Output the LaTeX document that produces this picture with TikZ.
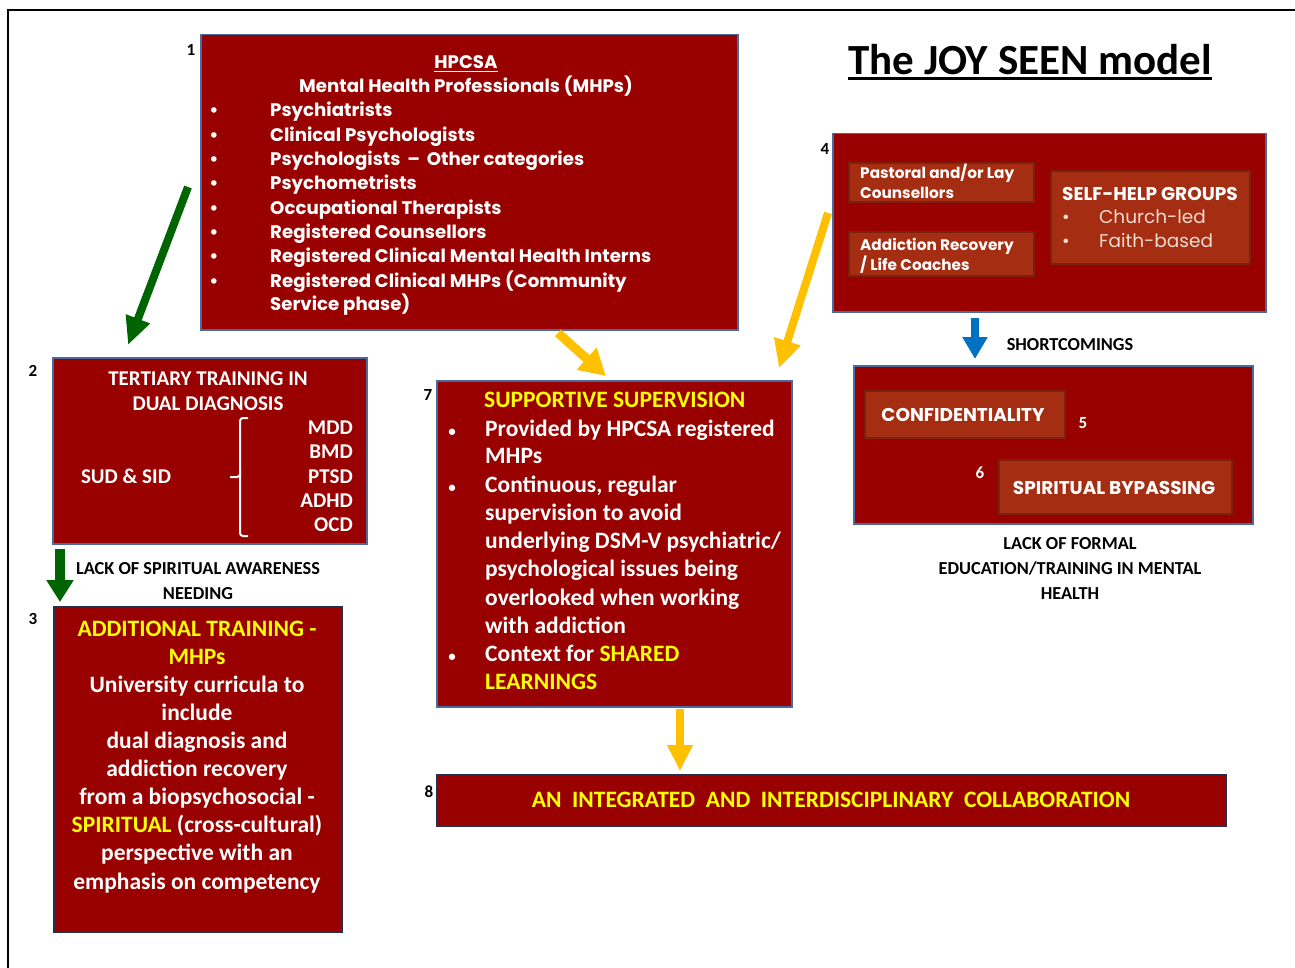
\documentclass[tikz,border=0pt]{standalone}
\usepackage{fontspec}
\setmainfont{Carlito}
\newfontfamily\gothic{Poppins}
\usetikzlibrary{arrows.meta}
\definecolor{boxred}{HTML}{990000}
\definecolor{rust}{HTML}{A42D12}
\definecolor{rustedge}{HTML}{7E2010}
\definecolor{edgeblue}{HTML}{4A6B9E}
\definecolor{edgenavy}{HTML}{24304F}
\definecolor{gold}{HTML}{FFC000}
\definecolor{yel}{HTML}{FFFF00}
\definecolor{darkgreen}{HTML}{006400}
\definecolor{arrowblue}{HTML}{0070C0}
\definecolor{pale}{HTML}{F2DCD0}
\begin{document}
\begin{tikzpicture}[x=1pt,y=-1pt,
  redbox/.style={draw=edgeblue, line width=1.5, fill=boxred, anchor=north west, inner sep=0},
  navybox/.style={redbox, draw=edgenavy},
  inbox/.style={draw=rustedge, line width=2, fill=rust, anchor=north west, inner sep=0},
  txtbase/.style={inner sep=0, yshift=-5pt},
  gtxt/.style={txtbase, font=\gothic\bfseries\fontsize{18.2}{21}\selectfont, text=white},
  gtxts/.style={txtbase, font=\gothic\bfseries\fontsize{15.3}{18}\selectfont, text=white},
  gtxtm/.style={txtbase, font=\gothic\bfseries\fontsize{18.5}{21}\selectfont, text=white},
  gtxtr/.style={txtbase, font=\gothic\fontsize{18.5}{21}\selectfont, text=pale},
  ctxt/.style={txtbase, font=\bfseries\fontsize{23.5}{27}\selectfont, text=white},
  ctxtm/.style={txtbase, font=\bfseries\fontsize{21}{25}\selectfont, text=white},
  dotxt/.style={txtbase, font=\bfseries\fontsize{15}{18}\selectfont, text=white},
  lbltxt/.style={txtbase, font=\bfseries\fontsize{18.3}{21}\selectfont, text=black},
  numtxt/.style={txtbase, font=\bfseries\fontsize{17}{20}\selectfont, text=black},
]
\useasboundingbox (0,0) rectangle (1295,968);
% frame
\coordinate (frameBL) at (8,968);
\coordinate (frameTL) at (8,10);
\coordinate (frameTR) at (1295,10);
\draw[line width=2.5] (frameBL) -- (frameTL) -- (frameTR);

% title
\node[font=\bfseries\fontsize{43}{50}\selectfont, inner sep=0, anchor=base] (title) at (1030,75) {The JOY SEEN model};
\draw[line width=3] ([yshift=-4pt]title.base west) -- ([yshift=-4pt]title.base east);

% ---------- Box 1
\node[redbox, minimum width=537, minimum height=295] (b1) at (200,34) {};
\node[numtxt, anchor=mid] (n1) at (191,48) {1};
\node[gtxt, anchor=mid] (hp) at (466,61) {HPCSA};
\draw[white, line width=1.5] ([yshift=-3pt]hp.base west) -- ([yshift=-3pt]hp.base east);
\node[gtxt, anchor=mid] (mhp) at (466,85) {Mental Health Professionals (MHPs)};
\foreach \t/\y in {Psychiatrists/109, Clinical Psychologists/134, Psychologists \,–\, Other categories/158, Psychometrists/182, Occupational Therapists/207, Registered Counsellors/231, Registered Clinical Mental Health Interns/255, Registered Clinical MHPs (Community/280}{
  \node[gtxt, anchor=mid west] (l1-\y) at (270,\y) {\t};
  \node[gtxt, anchor=mid] (d1-\y) at (214,\y) {•};
}
\node[gtxt, anchor=mid west] (l1-303) at (270,303) {Service phase)};

% ---------- Box 2
\node[redbox, minimum width=314, minimum height=186] (b2) at (52,357) {};
\node[numtxt, anchor=mid] (n2) at (33,369) {2};
\node[ctxtm, anchor=mid] (t2a) at (208,378) {TERTIARY TRAINING IN};
\node[ctxtm, anchor=mid] (t2b) at (208,403) {DUAL DIAGNOSIS};
\node[ctxtm, anchor=mid] (sud) at (126,476) {SUD \& SID};
\foreach \t/\y in {MDD/427, BMD/451, PTSD/476, ADHD/500, OCD/524}{
  \node[ctxtm, anchor=mid east] (d-\t) at (353,\y) {\t};
}
\coordinate (brTop) at (248,418);
\coordinate (brBot) at (248,536);
\coordinate (brMid) at (230,477);
\draw[white, line width=2, rounded corners=3] (brTop) -- (240,418) -- (240,477) -- (brMid);
\draw[white, line width=2, rounded corners=3] (240,470) -- (240,536) -- (brBot);

% ---------- Box 3
\node[navybox, minimum width=288, minimum height=325] (b3) at (53,606) {};
\node[numtxt, anchor=mid] (n3) at (33,617) {3};
\node[ctxt, anchor=mid, text=yel] (t3a) at (197,629) {ADDITIONAL TRAINING -};
\node[ctxt, anchor=mid, text=yel] (t3b) at (197,657) {MHPs};
\node[ctxt, anchor=mid] (t3c) at (197,685) {University curricula to};
\node[ctxt, anchor=mid] (t3d) at (197,713) {include};
\node[ctxt, anchor=mid] (t3e) at (197,741) {dual diagnosis and};
\node[ctxt, anchor=mid] (t3f) at (197,769) {addiction recovery};
\node[ctxt, anchor=mid] (t3g) at (197,797) {from a biopsychosocial -};
\node[ctxt, anchor=mid] (t3h) at (197,825) {\textcolor{yel}{SPIRITUAL} (cross-cultural)};
\node[ctxt, anchor=mid] (t3i) at (197,853) {perspective with an};
\node[ctxt, anchor=mid] (t3j) at (197,882) {emphasis on competency};

\node[lbltxt, anchor=mid] (lack1) at (198,567) {LACK OF SPIRITUAL AWARENESS};
\node[lbltxt, anchor=mid] (lack2) at (198,592) {NEEDING};

% ---------- Box 4
\node[redbox, minimum width=433, minimum height=178] (b4) at (832,133) {};
\node[numtxt, anchor=mid] (n4) at (825,147) {4};
\node[inbox, minimum width=185, minimum height=39] (pas) at (848,162) {};
\node[gtxts, anchor=mid west] (pas1) at (860,171) {Pastoral and/or Lay};
\node[gtxts, anchor=mid west] (pas2) at (860,191) {Counsellors};
\node[inbox, minimum width=185, minimum height=44] (arc) at (848,231) {};
\node[gtxts, anchor=mid west] (arc1) at (860,243) {Addiction Recovery};
\node[gtxts, anchor=mid west] (arc2) at (860,263) {/ Life Coaches};
\node[inbox, minimum width=199, minimum height=93] (shg) at (1050,170) {};
\node[gtxtm, anchor=mid west] (shg1) at (1062,193) {SELF-HELP GROUPS};
\node[gtxtr, anchor=mid] (shgd1) at (1066,216) {•};
\node[gtxtr, anchor=mid west] (shg2) at (1099,216) {Church-led};
\node[gtxtr, anchor=mid] (shgd2) at (1066,240) {•};
\node[gtxtr, anchor=mid west] (shg3) at (1099,240) {Faith-based};

% ---------- Box 5/6
\node[lbltxt, anchor=mid] (short) at (1070,343) {SHORTCOMINGS};
\node[redbox, minimum width=399, minimum height=158] (b56) at (853,365) {};
\node[inbox, minimum width=200, minimum height=47] (conf) at (864,390) {};
\node[gtxtm, anchor=mid] (conft) at (963,414) {CONFIDENTIALITY};
\node[inbox, minimum width=233, minimum height=54] (spb) at (998,459) {};
\node[gtxtm, anchor=mid] (spbt) at (1114,487) {SPIRITUAL BYPASSING};
\node[numtxt, text=white, anchor=mid] (n5) at (1083,421) {5};
\node[numtxt, text=white, anchor=mid] (n6) at (980,471) {6};
\node[lbltxt, anchor=mid] (lf1) at (1070,542) {LACK OF FORMAL};
\node[lbltxt, anchor=mid] (lf2) at (1070,567) {EDUCATION/TRAINING IN MENTAL};
\node[lbltxt, anchor=mid] (lf3) at (1070,592) {HEALTH};

% ---------- Box 7
\node[redbox, minimum width=355, minimum height=326] (b7) at (436,380) {};
\node[numtxt, anchor=mid] (n7) at (428,393) {7};
\node[ctxt, anchor=mid west, text=yel] (t7h) at (484,400) {SUPPORTIVE SUPERVISION};
\node[dotxt, anchor=mid] (d7a) at (452,429) {•};
\node[dotxt, anchor=mid] (d7b) at (452,485) {•};
\node[dotxt, anchor=mid] (d7c) at (452,654) {•};
\node[ctxt, anchor=mid west] (t7a) at (485,429) {Provided by HPCSA registered};
\node[ctxt, anchor=mid west] (t7b) at (485,456) {MHPs};
\node[ctxt, anchor=mid west] (t7c) at (485,485) {Continuous, regular};
\node[ctxt, anchor=mid west] (t7d) at (485,513) {supervision to avoid};
\node[ctxt, anchor=mid west] (t7e) at (485,541) {underlying DSM-V psychiatric/};
\node[ctxt, anchor=mid west] (t7f) at (485,569) {psychological issues being};
\node[ctxt, anchor=mid west] (t7g) at (485,598) {overlooked when working};
\node[ctxt, anchor=mid west] (t7i) at (485,626) {with addiction};
\node[ctxt, anchor=mid west] (t7j) at (485,654) {Context for \textcolor{yel}{SHARED}};
\node[ctxt, anchor=mid west, text=yel] (t7k) at (485,682) {LEARNINGS};

% ---------- Box 8
\node[navybox, minimum width=789, minimum height=51] (b8) at (436,774) {};
\node[numtxt, anchor=mid] (n8) at (429,790) {8};
\node[ctxt, text=yel, anchor=mid] (t8) at (831,800) {AN\ \ INTEGRATED\ \ AND\ \ INTERDISCIPLINARY\ \ COLLABORATION};

% ---------- Arrows
\coordinate (g1s) at (188,187);
\coordinate (g1e) at (128,345);
\draw[darkgreen, line width=8, -{Triangle[width=24pt,length=28pt]}] (g1s) -- (g1e);
\coordinate (g2s) at (60,549);
\coordinate (g2e) at (60,602);
\draw[darkgreen, line width=10, -{Triangle[width=26pt,length=22pt]}] (g2s) -- (g2e);
\coordinate (y1s) at (558,333);
\coordinate (y1e) at (606,376);
\draw[gold, line width=9, -{Triangle[width=28pt,length=26pt]}] (y1s) -- (y1e);
\coordinate (y2s) at (828,213);
\coordinate (y2e) at (779,368);
\draw[gold, line width=8, -{Triangle[width=26pt,length=28pt]}] (y2s) -- (y2e);
\coordinate (y3s) at (680,709);
\coordinate (y3e) at (680,771);
\draw[gold, line width=8, -{Triangle[width=24pt,length=26pt]}] (y3s) -- (y3e);
\coordinate (bls) at (975,318);
\coordinate (ble) at (975,359);
\draw[arrowblue, line width=8, -{Triangle[width=24pt,length=22pt]}] (bls) -- (ble);
\end{tikzpicture}
\end{document}
